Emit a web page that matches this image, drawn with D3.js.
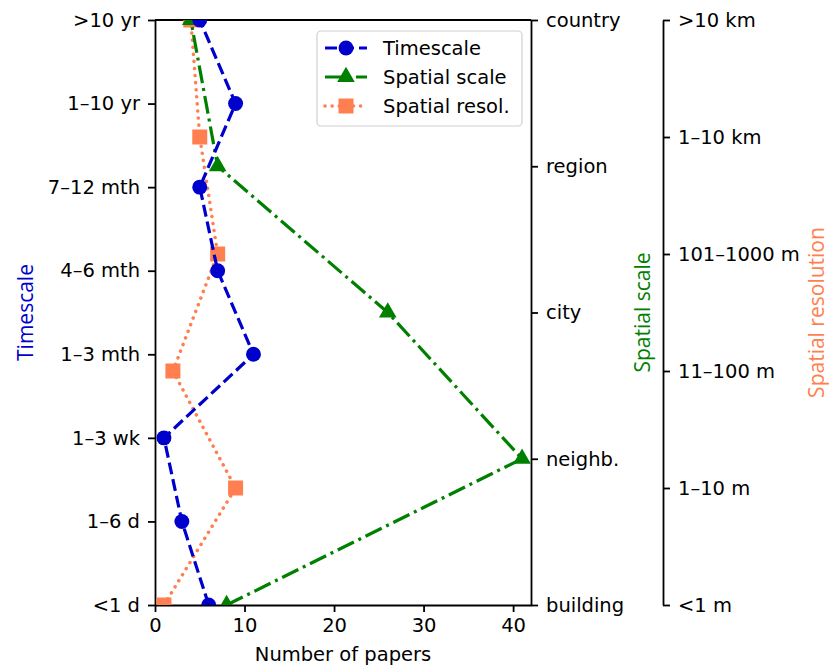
<html>
<head>
<meta charset="utf-8">
<script src="https://cdn.jsdelivr.net/npm/d3@7"></script>
<style>
  body{margin:0;background:#fff;}
  svg text{font-family:"DejaVu Sans",sans-serif;}
</style>
</head>
<body>
<div id="chart"></div>
<script>
// categories and counts
var timeCats  = ['<1 d','1–6 d','1–3 wk','1–3 mth','4–6 mth','7–12 mth','1–10 yr','>10 yr'];
var timeVals  = [6, 3, 1, 11, 7, 5, 9, 5];
var scaleCats = ['building','neighb.','city','region','country'];
var scaleVals = [8, 41, 26, 7, 4];
var resCats   = ['<1 m','1–10 m','11–100 m','101–1000 m','1–10 km','>10 km'];
var resVals   = [1, 9, 2, 7, 5, 4];
var xTicks    = [0, 10, 20, 30, 40];

var W = 829, H = 666;
var L = 155, R = 531, T = 20, B = 605;
var axis3X = 663;
var fs = '19.5px';

var svg = d3.select('#chart').append('svg')
  .attr('width', W)
  .attr('height', H);

var x = d3.scaleLinear().domain([0, 42]).range([L, R]);
var yTime  = d3.scalePoint().domain(timeCats).range([B, T]).padding(0);
var yScale = d3.scalePoint().domain(scaleCats).range([B, T]).padding(0);
var yRes   = d3.scalePoint().domain(resCats).range([B, T]).padding(0);

svg.append('clipPath').attr('id', 'clip')
  .append('rect').attr('x', L).attr('y', T).attr('width', R - L).attr('height', B - T);

function styleAxis(g){
  g.selectAll('path.domain').attr('stroke', '#000').attr('stroke-width', 1.8);
  g.selectAll('.tick line').attr('stroke', '#000').attr('stroke-width', 1.8);
  g.selectAll('.tick text').attr('fill', '#000').style('font-size', fs)
    .style('font-family', '"DejaVu Sans",sans-serif');
}

// x axis
svg.append('g')
  .attr('transform', 'translate(0,' + B + ')')
  .call(d3.axisBottom(x).tickValues(xTicks).tickFormat(d3.format('d')).tickSize(7).tickSizeOuter(0).tickPadding(6))
  .call(styleAxis);

// left axis: timescale
svg.append('g')
  .attr('transform', 'translate(' + L + ',0)')
  .call(d3.axisLeft(yTime).tickSize(7).tickSizeOuter(0).tickPadding(8))
  .call(styleAxis);

// right spine: spatial scale
svg.append('g')
  .attr('transform', 'translate(' + R + ',0)')
  .call(d3.axisRight(yScale).tickSize(7).tickSizeOuter(0).tickPadding(8))
  .call(styleAxis);

// detached third axis: spatial resolution
svg.append('g')
  .attr('transform', 'translate(' + axis3X + ',0)')
  .call(d3.axisRight(yRes).tickSize(7).tickSizeOuter(0).tickPadding(8))
  .call(styleAxis);

// top spine
svg.append('line')
  .attr('x1', L).attr('x2', R).attr('y1', T).attr('y2', T)
  .attr('stroke', '#000').attr('stroke-width', 1.8);

// axis titles
svg.append('text')
  .attr('x', (L + R) / 2).attr('y', 661)
  .attr('text-anchor', 'middle')
  .style('font-size', fs)
  .text('Number of papers');

function yTitle(txt, xp, col){
  svg.append('text')
    .attr('transform', 'translate(' + xp + ',' + ((T + B) / 2) + ') rotate(-90)')
    .attr('text-anchor', 'middle')
    .attr('fill', col)
    .style('font-family', '"Open Sans",sans-serif')
    .style('font-size', '21px')
    .text(txt);
}
yTitle('Timescale', 33, '#0000CD');
yTitle('Spatial scale', 650, '#008000');
yTitle('Spatial resolution', 824, '#FF7F50');

var series = [
  {name:'Spatial resol.', cats:resCats, vals:resVals, y:yRes, color:'#FF7F50',
   dash:'0.1,7', cap:'round', sym:d3.symbolSquare, size:225},
  {name:'Spatial scale', cats:scaleCats, vals:scaleVals, y:yScale, color:'#008000',
   dash:'18,5,3,5', cap:'butt', sym:d3.symbolTriangle, size:135},
  {name:'Timescale', cats:timeCats, vals:timeVals, y:yTime, color:'#0000CD',
   dash:'12,5', cap:'butt', sym:d3.symbolCircle, size:175}
];

var plot = svg.append('g').attr('clip-path', 'url(#clip)');

series.forEach(function(s){
  var pts = s.cats.map(function(c, i){ return [x(s.vals[i]), s.y(c)]; });
  plot.append('path')
    .attr('d', d3.line()(pts))
    .attr('fill', 'none')
    .attr('stroke', s.color)
    .attr('stroke-width', s.cap == 'round' ? 3.5 : 3.2)
    .attr('stroke-dasharray', s.dash)
    .attr('stroke-linecap', s.cap);
  plot.selectAll(null)
    .data(pts)
    .enter()
    .append('path')
      .attr('transform', function(d){ return 'translate(' + d[0] + ',' + d[1] + ')'; })
      .attr('d', d3.symbol().type(s.sym).size(s.size))
      .attr('fill', s.color);
});

// legend
var leg = svg.append('g');
leg.append('rect')
  .attr('x', 317).attr('y', 31).attr('width', 205).attr('height', 95)
  .attr('rx', 4)
  .attr('fill', 'rgba(255,255,255,0.8)')
  .attr('stroke', '#d0d0d0').attr('stroke-width', 1.2);

var legOrder = [series[2], series[1], series[0]];
legOrder.forEach(function(s, i){
  var yy = 48 + i * 29;
  leg.append('line')
    .attr('x1', 325).attr('x2', 367).attr('y1', yy).attr('y2', yy)
    .attr('stroke', s.color)
    .attr('stroke-width', s.cap == 'round' ? 3.5 : 3.2)
    .attr('stroke-dasharray', s.dash)
    .attr('stroke-linecap', s.cap);
  leg.append('path')
    .attr('transform', 'translate(346,' + yy + ')')
    .attr('d', d3.symbol().type(s.sym).size(s.size))
    .attr('fill', s.color);
  leg.append('text')
    .attr('x', 383).attr('y', yy).attr('dy', '0.35em')
    .style('font-size', fs)
    .text(s.name);
});
</script>
</body>
</html>
